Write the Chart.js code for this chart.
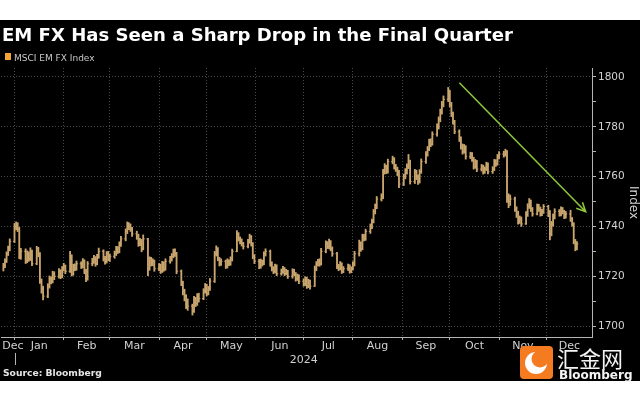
<!DOCTYPE html>
<html>
<head>
<meta charset="utf-8">
<script src="https://cdn.jsdelivr.net/npm/chart.js@4.4.1/dist/chart.umd.min.js"></script>
<style>
  html, body { margin: 0; padding: 0; background: #fff; }
  canvas { display: block; }
</style>
</head>
<body>
<canvas id="myChart" width="640" height="400"></canvas>
<script>
// Data: MSCI EM FX Index, daily bars (weekdays), day 0 = 1 Jan 2024

var firstDay = -7;   // Mon 25 Dec 2023
var lastDay = 354;   // Fri 20 Dec 2024

var closes = [
  1724, 1726, 1729, 1731, 1734,
  1740, 1740.5, 1739, 1728, 1730,
  1726, 1729, 1727, 1730, 1725,
  1731, 1729, 1718, 1715, 1712,
  1716, 1719, 1718, 1721, 1720,
  1722, 1720, 1723, 1724, 1722,
  1728, 1721, 1724, 1723, 1725,
  1724, 1726, 1722, 1719, 1725,
  1726, 1727, 1725, 1728, 1730,
  1727, 1726, 1729, 1727, 1728,
  1729, 1731, 1730, 1733, 1735,
  1738, 1741, 1740, 1739, 1737,
  1736, 1733, 1734, 1731, 1735,
  1723, 1727, 1725, 1726, 1723,
  1724, 1722, 1725, 1723, 1726,
  1727, 1728, 1730, 1729, 1722,
  1717, 1714, 1712, 1709, 1708,
  1706, 1711, 1709, 1712, 1711,
  1714, 1716, 1713, 1715, 1718,
  1729, 1731, 1727, 1725, 1726,
  1724, 1726, 1725, 1727, 1730,
  1737, 1735, 1734, 1733, 1732,
  1734, 1736, 1733, 1728, 1726,
  1724, 1726, 1725, 1729, 1730,
  1725, 1723, 1722, 1724, 1721,
  1722, 1723, 1721, 1722, 1720,
  1722, 1721, 1719, 1720, 1718,
  1717, 1719, 1716, 1718, 1716,
  1723, 1725, 1726, 1725, 1730,
  1733, 1732, 1734, 1731, 1729,
  1724, 1723, 1725, 1722, 1723,
  1724, 1722, 1723, 1725, 1729,
  1733, 1731, 1736, 1735, 1738,
  1740, 1742, 1746, 1748, 1751,
  1752, 1762, 1764, 1762, 1766,
  1767, 1764, 1763, 1762, 1757,
  1760, 1762, 1764, 1766, 1758,
  1762, 1760, 1758, 1762, 1766,
  1769, 1771, 1774, 1773, 1777,
  1780, 1783, 1786, 1789, 1791,
  1794, 1789, 1785, 1782, 1778,
  1775, 1772, 1770, 1772, 1768,
  1769, 1767, 1764, 1766, 1763,
  1764, 1762, 1763, 1765, 1762,
  1763, 1766, 1765, 1768, 1769,
  1769, 1770, 1752, 1750, 1751,
  1747, 1745, 1742, 1743, 1741,
  1745, 1748, 1750, 1747, 1745,
  1748, 1747, 1745, 1746, 1748,
  1745, 1737, 1741, 1744, 1746,
  1745, 1747, 1746, 1744, 1745,
  1743, 1741, 1734, 1731, 1733
];

var highs = [
  1725.2, 1727.0, 1729.8, 1732.1, 1735.0,
  1741.2, 1741.8, 1741.5, 1739.6, 1731.2,
  1731.0, 1730.2, 1729.8, 1731.4, 1730.5,
  1732.0, 1731.6, 1729.5, 1718.9, 1716.0,
  1717.0, 1720.1, 1719.8, 1722.0, 1721.8,
  1723.1, 1722.6, 1723.9, 1725.2, 1724.5,
  1730.0, 1728.6, 1724.8, 1725.0, 1726.1,
  1725.8, 1727.1, 1726.6, 1722.8, 1725.9,
  1727.2, 1728.4, 1727.9, 1728.8, 1731.3,
  1730.6, 1728.0, 1729.9, 1730.0, 1728.9,
  1730.1, 1732.0, 1731.9, 1733.8, 1736.0,
  1739.0, 1741.8, 1741.5, 1741.0, 1739.6,
  1738.1, 1736.9, 1735.2, 1734.8, 1736.6,
  1735.2, 1727.8, 1727.6, 1727.0, 1726.5,
  1725.1, 1724.9, 1726.0, 1725.8, 1727.0,
  1728.0, 1729.1, 1730.9, 1731.0, 1729.6,
  1722.5, 1718.0, 1714.8, 1712.6, 1710.9,
  1708.8, 1711.9, 1711.5, 1713.0, 1713.2,
  1715.0, 1717.1, 1716.8, 1715.9, 1719.1,
  1730.0, 1732.2, 1731.5, 1727.6, 1727.0,
  1726.5, 1727.0, 1726.6, 1727.8, 1730.9,
  1738.3, 1737.5, 1735.8, 1735.0, 1733.6,
  1734.8, 1736.9, 1736.3, 1733.5, 1728.7,
  1726.8, 1726.9, 1726.5, 1729.8, 1731.0,
  1730.5, 1725.8, 1723.9, 1724.9, 1724.6,
  1722.9, 1724.0, 1723.5, 1722.8, 1722.4,
  1723.0, 1722.8, 1721.5, 1720.9, 1720.6,
  1718.9, 1719.8, 1719.6, 1718.8, 1718.5,
  1724.1, 1725.9, 1726.8, 1727.0, 1731.2,
  1734.2, 1733.9, 1734.9, 1734.3, 1731.8,
  1729.6, 1724.8, 1725.9, 1725.4, 1723.9,
  1724.9, 1724.6, 1723.8, 1725.8, 1730.0,
  1734.5, 1733.8, 1736.9, 1736.8, 1738.9,
  1741.0, 1742.9, 1746.8, 1749.0, 1752.0,
  1753.1, 1762.9, 1765.2, 1764.6, 1767.0,
  1768.2, 1767.6, 1764.9, 1763.8, 1762.5,
  1761.0, 1763.2, 1765.1, 1768.9, 1766.6,
  1762.9, 1762.6, 1760.7, 1762.8, 1767.1,
  1770.0, 1772.1, 1775.0, 1775.2, 1778.0,
  1781.2, 1784.0, 1787.1, 1790.2, 1792.4,
  1795.8, 1794.6, 1789.8, 1785.9, 1782.6,
  1778.8, 1776.0, 1773.1, 1772.9, 1772.4,
  1769.8, 1769.6, 1767.8, 1766.9, 1766.5,
  1764.9, 1764.6, 1763.9, 1765.8, 1765.5,
  1764.0, 1766.9, 1766.8, 1768.9, 1770.0,
  1770.2, 1771.0, 1770.4, 1753.1, 1752.6,
  1751.8, 1747.9, 1746.1, 1744.2, 1743.8,
  1746.0, 1749.1, 1751.2, 1750.6, 1747.6,
  1749.0, 1748.9, 1747.8, 1746.9, 1748.8,
  1748.5, 1746.4, 1742.0, 1745.0, 1747.1,
  1746.8, 1747.9, 1747.6, 1746.5, 1746.0,
  1746.5, 1743.6, 1741.5, 1734.8, 1733.9
];

var lows = [
  1722.1, 1723.4, 1725.5, 1728.3, 1730.2,
  1733.5, 1738.6, 1737.9, 1727.0, 1726.8,
  1725.1, 1725.4, 1726.0, 1726.3, 1724.2,
  1724.6, 1727.8, 1717.1, 1713.2, 1710.5,
  1711.4, 1715.2, 1716.9, 1717.3, 1718.6,
  1719.2, 1719.0, 1719.4, 1722.1, 1721.0,
  1721.5, 1720.1, 1720.4, 1722.2, 1722.4,
  1723.1, 1723.3, 1721.0, 1717.8, 1718.4,
  1724.2, 1725.1, 1724.0, 1724.6, 1727.2,
  1726.1, 1724.8, 1725.3, 1726.2, 1725.9,
  1727.2, 1728.3, 1729.1, 1729.4, 1732.0,
  1734.2, 1737.1, 1738.7, 1738.0, 1736.0,
  1734.8, 1732.0, 1732.3, 1729.8, 1730.6,
  1720.2, 1722.4, 1724.1, 1724.2, 1722.0,
  1722.2, 1721.1, 1721.5, 1722.0, 1722.4,
  1725.2, 1726.1, 1727.4, 1728.0, 1721.0,
  1716.2, 1712.5, 1710.1, 1707.0, 1706.3,
  1704.4, 1705.5, 1707.8, 1708.3, 1709.6,
  1710.6, 1713.2, 1712.1, 1712.5, 1714.3,
  1717.5, 1728.1, 1726.2, 1724.1, 1724.3,
  1723.1, 1723.3, 1724.2, 1724.4, 1726.1,
  1729.8, 1734.1, 1733.0, 1732.1, 1730.9,
  1731.4, 1733.2, 1732.1, 1727.0, 1725.1,
  1723.0, 1723.2, 1724.1, 1724.6, 1728.1,
  1724.0, 1722.1, 1721.0, 1721.3, 1720.2,
  1720.4, 1721.1, 1720.2, 1720.6, 1719.1,
  1719.2, 1720.1, 1718.0, 1718.3, 1717.0,
  1716.0, 1716.2, 1715.1, 1715.4, 1714.8,
  1715.9, 1722.2, 1724.1, 1724.0, 1724.5,
  1729.4, 1731.1, 1731.0, 1730.2, 1728.0,
  1723.0, 1722.2, 1722.6, 1721.1, 1721.4,
  1722.3, 1721.2, 1721.4, 1722.5, 1724.1,
  1728.1, 1730.0, 1730.6, 1734.2, 1734.4,
  1737.2, 1739.1, 1741.4, 1745.0, 1747.1,
  1750.2, 1751.1, 1761.0, 1761.2, 1761.4,
  1765.1, 1763.0, 1762.1, 1760.4, 1755.6,
  1756.4, 1759.1, 1761.0, 1763.2, 1757.0,
  1757.2, 1758.8, 1756.9, 1757.4, 1761.3,
  1765.3, 1768.2, 1770.4, 1772.0, 1772.6,
  1776.2, 1779.1, 1782.0, 1785.1, 1788.0,
  1790.1, 1788.0, 1784.1, 1781.0, 1777.2,
  1774.1, 1771.0, 1769.0, 1769.4, 1767.0,
  1767.2, 1766.1, 1763.0, 1763.3, 1762.0,
  1762.2, 1761.0, 1761.3, 1762.4, 1761.1,
  1761.3, 1762.4, 1764.1, 1764.6, 1767.1,
  1767.8, 1768.2, 1749.6, 1747.5, 1748.4,
  1746.0, 1743.6, 1740.9, 1741.2, 1740.0,
  1740.8, 1744.0, 1747.2, 1746.0, 1744.1,
  1744.6, 1746.0, 1744.1, 1744.3, 1745.2,
  1743.9, 1734.6, 1736.2, 1740.1, 1743.0,
  1744.1, 1744.2, 1745.0, 1743.1, 1743.3,
  1742.0, 1740.1, 1733.0, 1730.2, 1730.6
];

// x axis: month boundaries (grid) and month label positions
var monthStarts = [0, 31, 60, 91, 121, 152, 182, 213, 244, 274, 305, 335];
var monthLabels = ['Dec', 'Jan', 'Feb', 'Mar', 'Apr', 'May', 'Jun', 'Jul', 'Aug', 'Sep', 'Oct', 'Nov', 'Dec'];
var monthLabelDays = [-1, 15.5, 45.5, 75.5, 106, 136.5, 167, 197.5, 228.5, 259, 289.5, 320, 349.25];
var yearLabel = '2024';
var yearLabelDay = 182;

// y axis ticks
var yTicks = [1700, 1710, 1720, 1730, 1740, 1750, 1760, 1770, 1780, 1790, 1800];

// annotation arrow [day, value]
var arrowFrom = [280, 1797.7];
var arrowTo = [359.5, 1745.9];

var barColor = '#c9a56e';
var textColor = '#d2d2d2';
var gridColor = '#484848';
var axisColor = '#b4b4b4';

// trading days (weekdays only)
var days = [];
for (var d = firstDay; d <= lastDay; d++) {
  var wd = ((d % 7) + 7) % 7;
  if (wd < 5) days.push(d);
}

var xTickValues = monthStarts.concat(monthLabelDays);

function isMonthStart(v) {
  return monthStarts.indexOf(v) !== -1;
}

// Open / close ticks of each bar, plus the trend arrow
var ohlcTicks = {
  id: 'ohlcTicks',
  afterDatasetsDraw: function(chart) {
    var xs = chart.scales.x, ys = chart.scales.y, c = chart.ctx;
    c.save();
    c.strokeStyle = barColor;
    c.lineWidth = 1;
    c.beginPath();
    for (var i = 0; i < days.length; i++) {
      var x = xs.getPixelForValue(days[i]);
      var yc = ys.getPixelForValue(closes[i]);
      c.moveTo(x, yc);
      c.lineTo(x + 1.5, yc);
      if (i > 0) {
        var yo = ys.getPixelForValue(closes[i - 1]);
        c.moveTo(x - 1.5, yo);
        c.lineTo(x, yo);
      }
    }
    c.stroke();

    // green trend arrow
    var x1 = xs.getPixelForValue(arrowFrom[0]), y1 = ys.getPixelForValue(arrowFrom[1]);
    var x2 = xs.getPixelForValue(arrowTo[0]), y2 = ys.getPixelForValue(arrowTo[1]);
    var ang = Math.atan2(y2 - y1, x2 - x1);
    c.strokeStyle = '#8cc43a';
    c.lineWidth = 1.6;
    c.beginPath();
    c.moveTo(x1, y1);
    c.lineTo(x2, y2);
    c.moveTo(x2 - 10 * Math.cos(ang - 0.45), y2 - 10 * Math.sin(ang - 0.45));
    c.lineTo(x2, y2);
    c.lineTo(x2 - 10 * Math.cos(ang + 0.45), y2 - 10 * Math.sin(ang + 0.45));
    c.stroke();
    c.restore();
  }
};

// Background, title, legend, source and logos
var frame = {
  id: 'frame',
  beforeDraw: function(chart) {
    var c = chart.ctx;
    c.save();
    c.fillStyle = '#fff';
    c.fillRect(0, 0, 640, 400);
    c.fillStyle = '#000';
    c.fillRect(0, 20, 640, 361);
    c.restore();
  },
  afterDraw: function(chart) {
    var c = chart.ctx, xs = chart.scales.x;
    c.save();

    // title
    c.fillStyle = '#fff';
    c.textBaseline = 'alphabetic';
    var title = 'EM FX Has Seen a Sharp Drop in the Final Quarter';
    c.font = 'bold 19px "DejaVu Sans"';
    var w = c.measureText(title).width;
    var size = 19 * 511 / w;
    c.font = 'bold ' + size.toFixed(2) + 'px "DejaVu Sans"';
    c.fillText(title, 2, 41);

    // legend
    c.fillStyle = '#f5a43a';
    c.fillRect(5, 53, 6, 7);
    c.fillStyle = '#c8c8c8';
    c.font = '9px "DejaVu Sans"';
    c.fillText('MSCI EM FX Index', 14, 60.5);

    // year tick under Jan
    var xj = Math.round(xs.getPixelForValue(0)) + 0.5;
    c.strokeStyle = axisColor;
    c.lineWidth = 1;
    c.beginPath();
    c.moveTo(xj, 353);
    c.lineTo(xj, 365);
    c.stroke();

    // source
    c.fillStyle = '#e6e6e6';
    c.font = 'bold 10px "DejaVu Sans"';
    w = c.measureText('Source: Bloomberg').width;
    c.font = 'bold ' + (10 * 99 / w).toFixed(2) + 'px "DejaVu Sans"';
    c.fillText('Source: Bloomberg', 3, 376);

    // watermark
    c.fillStyle = '#f47b20';
    c.beginPath();
    c.roundRect(520, 346, 33, 33, 4);
    c.fill();
    c.fillStyle = '#fff';
    c.beginPath();
    c.arc(536, 363, 11, 0, Math.PI * 2);
    c.fill();
    c.fillStyle = '#f47b20';
    c.beginPath();
    c.arc(540, 359, 8.5, 0, Math.PI * 2);
    c.fill();

    c.fillStyle = '#f4f4f4';
    c.font = '22px "Noto Sans CJK SC"';
    c.fillText('汇金网', 557, 367);
    c.font = 'bold 12px "DejaVu Sans"';
    c.fillText('Bloomberg', 559, 379);
    c.restore();
  }
};

var ctx = document.getElementById('myChart').getContext('2d');

var chart = new Chart(ctx, {
  type: 'bar',
  data: {
    datasets: [{
      label: 'MSCI EM FX Index',
      data: days.map(function(d, i) { return { x: d, y: [lows[i], highs[i]] }; }),
      backgroundColor: barColor,
      borderWidth: 0,
      barThickness: 1.2,
      grouped: false
    }]
  },
  options: {
    responsive: false,
    animation: false,
    devicePixelRatio: 1,
    layout: { padding: { top: 68, left: 1, right: 0, bottom: 0 } },
    plugins: {
      legend: { display: false },
      tooltip: { enabled: false }
    },
    scales: {
      x: {
        type: 'linear',
        min: -8.5,
        max: 363.5,
        offset: false,
        afterBuildTicks: function(s) {
          s.ticks = xTickValues.map(function(v) { return { value: v }; });
        },
        afterFit: function(s) {
          s.height = 63;
        },
        grid: {
          offset: false,
          color: function(c) { return c.tick && isMonthStart(c.tick.value) ? gridColor : 'rgba(0,0,0,0)'; },
          tickColor: function(c) { return c.tick && isMonthStart(c.tick.value) ? axisColor : 'rgba(0,0,0,0)'; },
          tickLength: 3
        },
        border: { display: true, color: axisColor, width: 1, dash: [1, 2] },
        ticks: {
          autoSkip: false,
          maxRotation: 0,
          minRotation: 0,
          padding: 0,
          color: textColor,
          font: { family: 'DejaVu Sans', size: 11, lineHeight: 1.2 },
          callback: function(v) {
            var k = monthLabelDays.indexOf(v);
            if (k !== -1) return monthLabels[k];
            if (v === yearLabelDay) return ['', yearLabel];
            return '';
          }
        }
      },
      y: {
        position: 'right',
        min: 1695.6,
        max: 1803.6,
        afterBuildTicks: function(s) {
          s.ticks = yTicks.map(function(v) { return { value: v }; });
        },
        afterFit: function(s) {
          s.width = 48;
        },
        grid: {
          color: function(c) { return c.tick && c.tick.value % 20 === 0 ? gridColor : 'rgba(0,0,0,0)'; },
          tickColor: axisColor,
          tickLength: 4
        },
        border: { display: true, color: axisColor, width: 1, dash: [1, 2] },
        ticks: {
          padding: 2,
          color: textColor,
          font: { family: 'DejaVu Sans', size: 10.5 },
          callback: function(v) { return v % 20 === 0 ? String(v) : ''; }
        },
        title: {
          display: true,
          text: 'Index',
          color: textColor,
          font: { family: 'DejaVu Sans', size: 12 },
          padding: { top: 0, bottom: 1 }
        }
      }
    }
  },
  plugins: [frame, ohlcTicks]
});
</script>
</body>
</html>
